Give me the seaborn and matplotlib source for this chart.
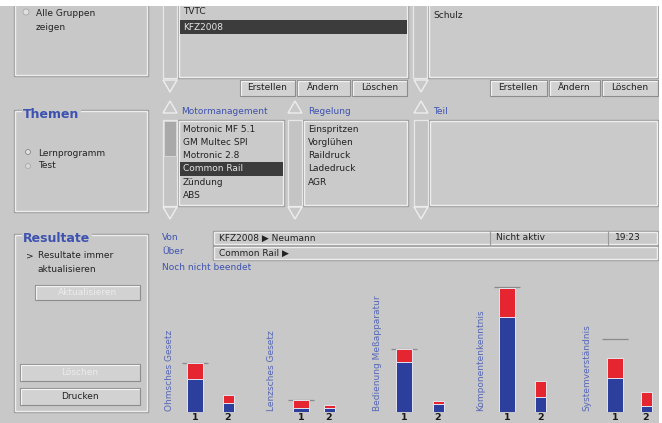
import matplotlib
matplotlib.use("Agg")
import matplotlib.pyplot as plt
from matplotlib.patches import Rectangle, Polygon, Circle
import seaborn as sns
import pandas as pd

# ---------------- data ----------------
themen = ["Ohmsches Gesetz", "Lenzsches Gesetz", "Bedienung Meßapparatur",
          "Komponentenkenntnis", "Systemverständnis"]
durchlauf = ["1", "2"]
blau_1 = [33, 4, 50, 95, 34]
rot_1 = [16, 8, 13, 29, 20]
blau_2 = [9, 4, 8, 15, 6]
rot_2 = [8, 3, 3, 16, 14]
marke_1 = [49, 12, 63, 125, 73]

gruppen_liste = ["TVTC", "KFZ2008"]
benutzer_liste = ["Schulz"]
motor_liste = ["Motronic MF 5.1", "GM Multec SPI", "Motronic 2.8", "Common Rail", "Zündung", "ABS"]
regel_liste = ["Einspritzen", "Vorglühen", "Raildruck", "Ladedruck", "AGR"]

# ---------------- figure ----------------
W, H = 662, 423
BG = "#c8c8c8"
BLUE_TXT = "#3d52b0"
TXT = "#222222"
sns.set_theme(style="white")
plt.rcParams["font.family"] = ["DejaVu Sans"]

fig = plt.figure(figsize=(W / 100, H / 100), dpi=100)
fig.patch.set_facecolor(BG)
bg = fig.add_axes([0, 0, 1, 1])
bg.set_xlim(0, W)
bg.set_ylim(H, 0)
bg.axis("off")
bg.set_facecolor(BG)


def box(x0, y0, x1, y1, fc=BG, light="#eeeeee", dark="#9a9a9a", lw=1.0, z=1):
    bg.add_patch(Rectangle((x0, y0), x1 - x0, y1 - y0, facecolor=fc, edgecolor=dark, lw=lw, zorder=z))
    bg.add_patch(Rectangle((x0 + 1, y0 + 1), x1 - x0 - 2, y1 - y0 - 2, facecolor="none",
                           edgecolor=light, lw=lw, zorder=z + 0.1))


def txt(x, y, s, size=6.5, color=TXT, weight="normal", **kw):
    bg.text(x, y, s, fontsize=size, color=color, fontweight=weight, va="center", ha="left", zorder=5, **kw)


def button(x0, y0, x1, y1, label, color=TXT):
    bg.add_patch(Rectangle((x0, y0), x1 - x0, y1 - y0, facecolor="#d2d2d2", edgecolor="#8c8c8c", lw=0.8, zorder=3))
    bg.plot([x0 + 1, x0 + 1, x1 - 1], [y1 - 1, y0 + 1, y0 + 1], color="#f2f2f2", lw=0.9, zorder=3.1)
    bg.text((x0 + x1) / 2, (y0 + y1) / 2, label, fontsize=6.5, color=color, ha="center", va="center", zorder=5)


def tri(cx, ytop, down=True):
    if down:
        pts = [(cx - 7, ytop), (cx + 7, ytop), (cx, ytop + 12)]
    else:
        pts = [(cx - 7, ytop + 12), (cx + 7, ytop + 12), (cx, ytop)]
    bg.add_patch(Polygon(pts, closed=True, facecolor="none", edgecolor="#eeeeee", lw=1.0, zorder=3))


def scroll(x0, y0, x1, y1, thumb=None):
    bg.add_patch(Rectangle((x0, y0), x1 - x0, y1 - y0, facecolor="#c4c4c4", edgecolor="#e8e8e8", lw=0.9, zorder=2))
    if thumb:
        bg.add_patch(Rectangle((x0 + 1, thumb[0]), x1 - x0 - 2, thumb[1] - thumb[0],
                               facecolor="#a9a9a9", edgecolor="#dddddd", lw=0.6, zorder=2.5))


def titled_panel(x0, y0, x1, y1, title):
    box(x0, y0, x1, y1, fc=BG)
    if title:
        bg.text(x0 + 9, y0 + 4, title, fontsize=9, color=BLUE_TXT, fontweight="bold",
                ha="left", va="center", zorder=5,
                bbox=dict(facecolor=BG, edgecolor="none", pad=1.0))


# top white strip / right strip
bg.add_patch(Rectangle((0, 0), W, 6, facecolor="white", edgecolor="none", zorder=10))
bg.add_patch(Rectangle((659, 0), 3, H, facecolor="white", edgecolor="none", zorder=10))

# ---- top-left panel ----
box(14, -4, 148, 76)
bg.add_patch(Circle((26, 12), 3, facecolor="#e0e0e0", edgecolor="#aaaaaa", lw=0.6, zorder=4))
txt(36, 13, "Alle Gruppen")
txt(36, 27, "zeigen")

# ---- groups list ----
scroll(163, -4, 177, 78)
box(178, -4, 408, 78, fc="#cacaca")
txt(183, 11, gruppen_liste[0])
bg.add_patch(Rectangle((180, 20), 227, 14, facecolor="#3c3c3c", edgecolor="none", zorder=4))
txt(183, 27, gruppen_liste[1], color="#e6e6e6")
tri(170, 80, True)
button(240, 80, 295, 96, "Erstellen")
button(297, 80, 350, 96, "Ändern")
button(352, 80, 407, 96, "Löschen")

# ---- users list ----
scroll(413, -4, 427, 78)
box(428, -4, 658, 78, fc="#cacaca")
txt(433, 15, benutzer_liste[0])
tri(421, 80, True)
button(490, 80, 547, 96, "Erstellen")
button(549, 80, 600, 96, "Ändern")
button(602, 80, 658, 96, "Löschen")

# ---- Themen ----
titled_panel(14, 110, 148, 212, "Themen")
bg.add_patch(Circle((28, 152), 2.5, facecolor="#e0e0e0", edgecolor="#888888", lw=0.6, zorder=4))
txt(38, 153, "Lernprogramm")
bg.add_patch(Circle((28, 166), 2.5, facecolor="#d8d8d8", edgecolor="#aaaaaa", lw=0.6, zorder=4))
txt(38, 166, "Test")

tri(170, 101, False)
tri(295, 101, False)
tri(421, 101, False)
txt(181, 111, "Motormanagement", color=BLUE_TXT)
txt(308, 111, "Regelung", color=BLUE_TXT)
txt(433, 111, "Teil", color=BLUE_TXT)

scroll(163, 120, 177, 206, thumb=(121, 156))
box(178, 120, 284, 206, fc="#cacaca")
for i, item in enumerate(motor_liste):
    y = 129 + i * 13.3
    if item == "Common Rail":
        bg.add_patch(Rectangle((180, y - 7), 103, 14, facecolor="#3c3c3c", edgecolor="none", zorder=4))
        txt(183, y, item, color="#e6e6e6")
    else:
        txt(183, y, item)

scroll(288, 120, 302, 206)
box(303, 120, 408, 206, fc="#cacaca")
for i, item in enumerate(regel_liste):
    txt(308, 129 + i * 13.3, item)

scroll(414, 120, 428, 206)
box(429, 120, 658, 206, fc="#cacaca")
tri(170, 207, True)
tri(295, 207, True)
tri(421, 207, True)

# ---- Resultate ----
titled_panel(14, 234, 148, 412, "Resultate")
txt(26, 256, ">", size=6.5)
txt(38, 256, "Resultate immer")
txt(38, 270, "aktualisieren")
button(35, 285, 140, 300, "Aktualisieren", color="#ececec")
button(20, 364, 140, 381, "Löschen", color="#ececec")
button(20, 388, 140, 405, "Drucken")

txt(162, 238, "Von", color=BLUE_TXT)
txt(162, 252, "Über", color=BLUE_TXT)
box(213, 231, 658, 245, fc="#cacaca")
box(213, 246, 658, 260, fc="#cacaca")
bg.plot([490, 490], [231, 245], color="#9a9a9a", lw=0.8, zorder=4)
bg.plot([608, 608], [231, 245], color="#9a9a9a", lw=0.8, zorder=4)
txt(219, 238, "KFZ2008 ▶ Neumann")
txt(496, 238, "Nicht aktiv")
txt(615, 238, "19:23")
txt(219, 253, "Common Rail ▶")
txt(162, 267, "Noch nicht beendet", color=BLUE_TXT)

# ---------------- bar charts ----------------
RED = "#e52530"
BLUE = "#2c3f9c"
centers = [(195, 228), (301, 329), (404, 438), (507, 540.5), (615, 646)]
label_x = [170, 272, 378, 481, 587]
bar_w = [16, 11]
base_y, top_y = 412, 280

for g, name in enumerate(themen):
    c1, c2 = centers[g]
    s = c2 - c1
    left = c1 - 0.5 * s
    ax = fig.add_axes([left / W, 1 - base_y / H, 2 * s / W, (base_y - top_y) / H])
    ax.patch.set_alpha(0)
    df = pd.DataFrame({
        "Durchlauf": durchlauf,
        "gesamt": [blau_1[g] + rot_1[g], blau_2[g] + rot_2[g]],
        "richtig": [blau_1[g], blau_2[g]],
    })
    sns.barplot(data=df, x="Durchlauf", y="gesamt", color=RED, saturation=1,
                edgecolor="#e4e4ee", linewidth=0.7, ax=ax)
    sns.barplot(data=df, x="Durchlauf", y="richtig", color=BLUE, saturation=1,
                edgecolor="#e4e4ee", linewidth=0.7, ax=ax)
    for p in ax.patches:
        cx = p.get_x() + p.get_width() / 2
        k = int(round(cx))
        w = bar_w[k] / s
        p.set_width(w)
        p.set_x(cx - w / 2)
    ax.hlines(marke_1[g], -0.75 * 16 / s * 1.1, 0.75 * 16 / s * 1.1, color="#8a8a8a", lw=0.9, zorder=0)
    ax.set_xlim(-0.5, 1.5)
    ax.set_ylim(0, base_y - top_y)
    ax.set_xlabel("")
    ax.set_ylabel("")
    ax.set_yticks([])
    for sp in ax.spines.values():
        sp.set_visible(False)
    ax.tick_params(axis="x", length=0, pad=0.8, labelsize=6.8, labelcolor="#1a1a1a")
    for lab in ax.get_xticklabels():
        lab.set_fontweight("bold")
    bg.text(label_x[g], 411, name, rotation=90, fontsize=6.5, color="#5567b8",
            ha="center", va="bottom", zorder=5)

fig.savefig("out.png", dpi=100, facecolor=fig.get_facecolor())
